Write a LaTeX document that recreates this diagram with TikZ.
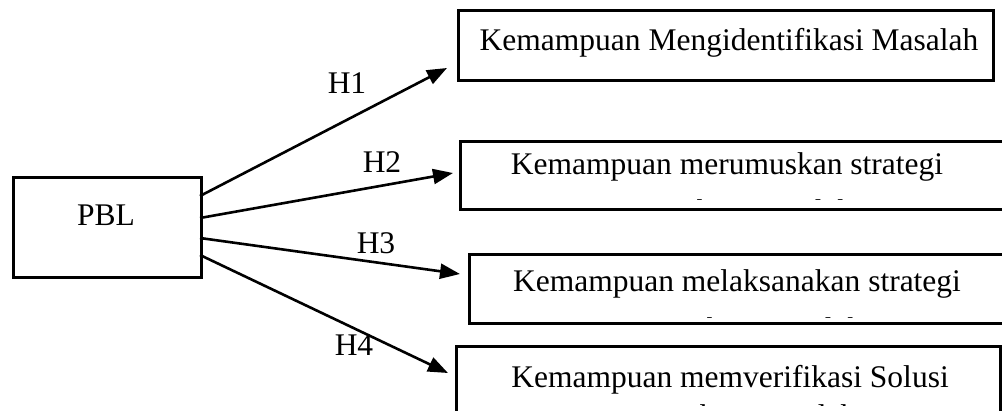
\documentclass[tikz,border=0pt]{standalone}
\usepackage{fontspec}
\setmainfont{Liberation Serif}
\usetikzlibrary{arrows.meta}
\begin{document}
\begin{tikzpicture}[x=1pt,y=-1pt,
  box/.style={draw, line width=2.6pt, inner sep=0, anchor=north west},
  txt/.style={anchor=base, inner sep=0, font=\fontsize{31.5}{38}\selectfont},
  arr/.style={line width=2.6pt, -{Triangle[length=20pt,width=15pt]}}]
\useasboundingbox (0,0) rectangle (1002,410);
% boxes
\node[box, minimum width=188pt, minimum height=100pt] (pbl) at (12,176) {};
\node[box, minimum width=535pt, minimum height=70pt] (b1) at (457,9) {};
\node[box, minimum width=560pt, minimum height=68pt] (b2) at (459,140) {};
\node[box, minimum width=560pt, minimum height=69pt] (b3) at (468,253) {};
\node[box, minimum width=544pt, minimum height=90pt] (b4) at (455,345) {};
% texts
\node[txt] (tp) at (106,225) {PBL};
\node[txt] (t1) at (729,50) {Kemampuan Mengidentifikasi Masalah};
\node[txt] (t2) at (727,174) {Kemampuan merumuskan strategi};
\node[txt] (t3) at (737,291) {Kemampuan melaksanakan strategi};
\node[txt] (t4) at (730,387) {Kemampuan memverifikasi Solusi};
\begin{scope}
\clip (460,150) rectangle (1002,199);
\node[txt] (t2b) at (727,221) {pemecahan masalah};
\end{scope}
\begin{scope}
\clip (470,260) rectangle (1002,317);
\node[txt] (t3b) at (737,339) {pemecahan masalah};
\end{scope}
\begin{scope}
\clip (460,350) rectangle (995,405);
\node[txt] (t4b) at (730,426) {pemecahan masalah};
\end{scope}
% connectors
\coordinate (s1) at (200,196);
\coordinate (s2) at (200,218);
\coordinate (s3) at (200,238);
\coordinate (s4) at (200,255);
\coordinate (e1) at (447,68);
\coordinate (e2) at (453,173);
\coordinate (e3) at (460,274);
\coordinate (e4) at (448,373);
\draw[arr] (s1) -- (e1);
\draw[arr] (s2) -- (e2);
\draw[arr] (s3) -- (e3);
\draw[arr] (s4) -- (e4);
% labels
\node[txt] (h1) at (347,93) {H1};
\node[txt] (h2) at (382,172) {H2};
\node[txt] (h3) at (376,253) {H3};
\node[txt] (h4) at (354,355) {H4};
\end{tikzpicture}
\end{document}
